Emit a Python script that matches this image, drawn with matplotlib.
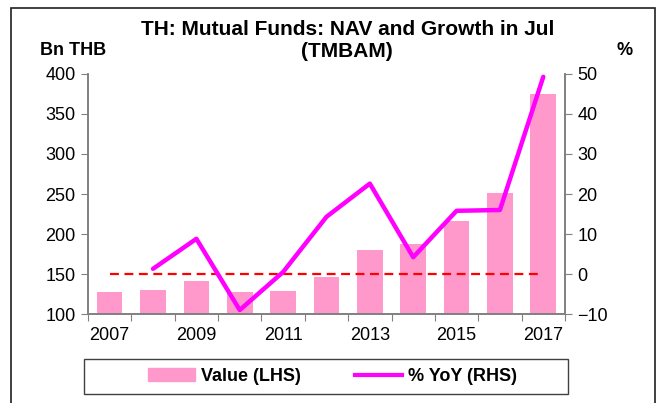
import matplotlib.pyplot as plt
import matplotlib.patches as mpatches
from matplotlib.lines import Line2D
import numpy as np

plt.rcParams['font.family'] = ['Liberation Sans', 'DejaVu Sans']

# data
years = [2007, 2008, 2009, 2010, 2011, 2012, 2013, 2014, 2015, 2016, 2017]
nav = [128, 130, 141, 128, 129, 146, 180, 187, 216, 251, 375]
yoy = [np.nan, 1.3, 8.8, -9.0, 0.5, 14.3, 22.6, 4.2, 15.8, 16.0, 49.3]
zero_line = [0] * len(years)
tick_years = [2007, 2009, 2011, 2013, 2015, 2017]

bar_color = '#FF99CC'
line_color = '#FF00FF'
axis_color = '#808080'

fig = plt.figure(figsize=(6.69, 4.03), dpi=100)
ax = fig.add_axes([0.1315, 0.2208, 0.713, 0.5956])
ax2 = ax.twinx()

x = np.arange(len(years))
ax.bar(x, nav, width=0.59, color=bar_color, zorder=2)
ax2.plot(x, yoy, color=line_color, lw=3.2, solid_capstyle='round', zorder=3)
ax2.plot(x, zero_line, color='#FF0000', lw=1.6, ls=(0, (4, 2.5)), zorder=2)

ax.set_xlim(-0.5, len(years) - 0.5)
ax.set_ylim(100, 400)
ax2.set_ylim(-10, 50)
ax.set_yticks(range(100, 401, 50))
ax2.set_yticks(range(-10, 51, 10))

# ticks between categories, labels under selected years
ax.set_xticks(np.arange(-0.5, len(years), 1))
ax.set_xticklabels([])
ax.set_xticks([years.index(y) for y in tick_years], minor=True)
ax.set_xticklabels([str(y) for y in tick_years], minor=True)
ax.tick_params(axis='x', which='minor', length=0, pad=9, labelsize=13)
ax.tick_params(axis='x', which='major', length=5, color=axis_color, direction='out')
ax.tick_params(axis='y', length=5, color=axis_color, labelsize=13, pad=4)
ax2.tick_params(axis='y', length=5, color=axis_color, labelsize=13, pad=4)

for a in (ax, ax2):
    a.spines['top'].set_visible(False)
    for s in ('left', 'right', 'bottom'):
        a.spines[s].set_color(axis_color)
        a.spines[s].set_linewidth(1.2)

fig.text(0.519, 0.926, 'TH: Mutual Funds: NAV and Growth in Jul', ha='center', va='center',
         fontsize=15, fontweight='bold')
fig.text(0.519, 0.871, '(TMBAM)', ha='center', va='center', fontsize=15, fontweight='bold')
fig.text(0.06, 0.874, 'Bn THB', ha='left', va='center', fontsize=13, fontweight='bold')
fig.text(0.934, 0.874, '%', ha='center', va='center', fontsize=13, fontweight='bold')

# legend without frame + separate box
handles = [mpatches.Patch(color=bar_color, label='Value (LHS)'),
           Line2D([0], [0], color=line_color, lw=3, label='% YoY (RHS)')]
fig.legend(handles=handles, loc='center', bbox_to_anchor=(0.497, 0.066), ncol=2,
           frameon=False, prop={'weight': 'bold', 'size': 13}, handlelength=2.6,
           handletextpad=0.35, columnspacing=3.0)
fig.patches.append(mpatches.Rectangle((84 / 669, 9 / 403), 484 / 669, 35 / 403,
                                      transform=fig.transFigure, fill=False,
                                      edgecolor='#404040', lw=1.0))

# outer frame
fig.patches.append(mpatches.Rectangle((0.016, -0.02), 0.963, 0.999, transform=fig.transFigure,
                                      fill=False, edgecolor='#202020', lw=1.2))

fig.savefig('out.png', dpi=100)
